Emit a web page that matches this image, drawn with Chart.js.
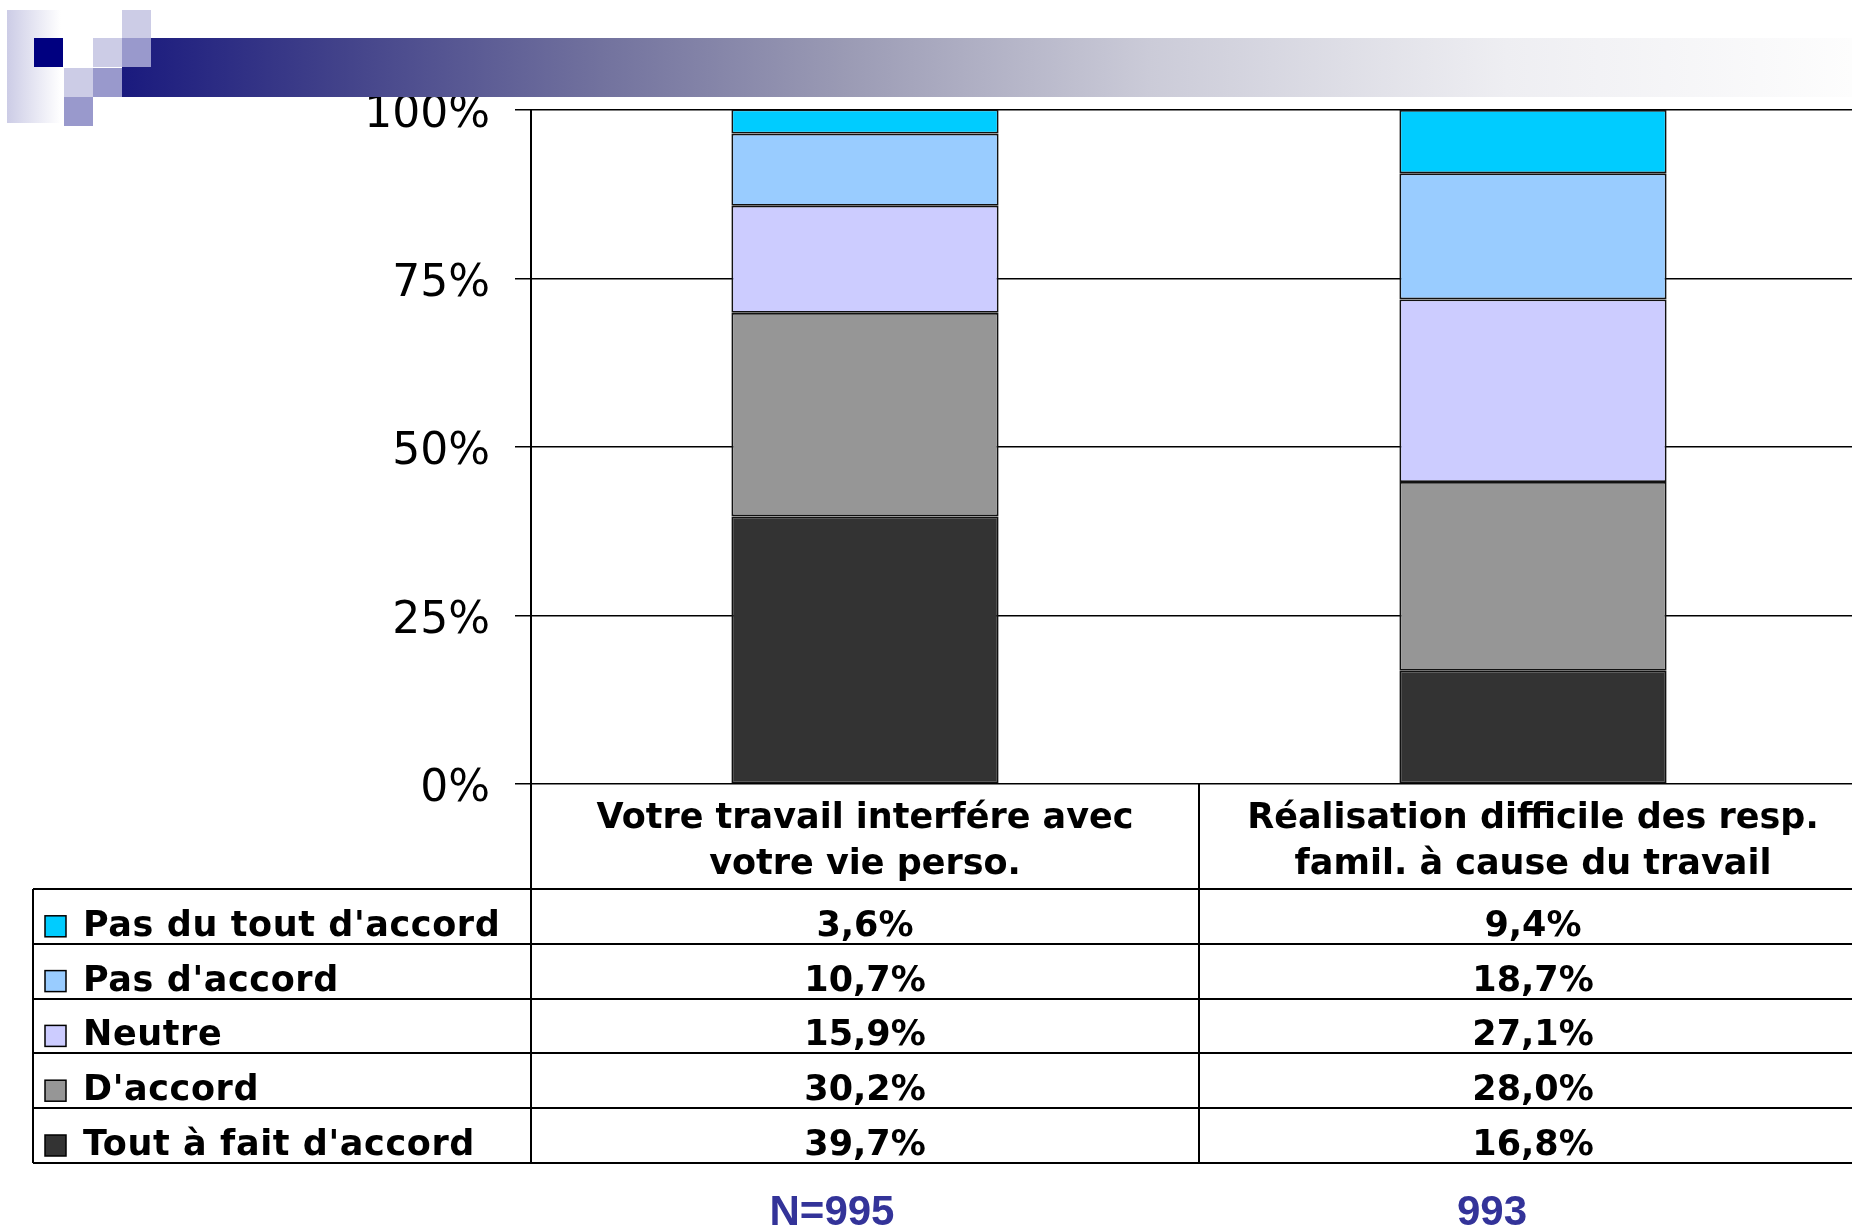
<!DOCTYPE html>
<html>
<head>
<meta charset="utf-8">
<script src="https://cdn.jsdelivr.net/npm/chart.js@4.4.0/dist/chart.umd.min.js"></script>
<style>
  html, body { margin: 0; padding: 0; background: #fff; overflow: hidden; }
  #wrap { width: 1880px; height: 1228px; }
</style>
</head>
<body>
<div id="wrap"><canvas id="barCanvas_travail" width="1880" height="1228"></canvas></div>
<script>
// categories (x axis) - one array per line of the label
const categories = [
    ['Votre travail interfére avec', 'votre vie perso.'],
    ['Réalisation difficile des resp.', 'famil. à cause du travail']
]
const nLabels = ['N=995', '993']

// series, bottom of the stack first
const seriesNames = ["Tout à fait d'accord", "D'accord", 'Neutre', "Pas d'accord", "Pas du tout d'accord"]
const toutAFait = [39.7, 16.8]
const dAccord = [30.2, 28.0]
const neutre = [15.9, 27.1]
const pasDAccord = [10.7, 18.7]
const pasDuTout = [3.6, 9.4]
const seriesColors = ['#333333', '#969696', '#CCCCFF', '#99CCFF', '#00CCFF']

const yTicks = [0, 25, 50, 75, 100]

const seriesValues = [toutAFait, dAccord, neutre, pasDAccord, pasDuTout]

// N labels are not centred on the columns in the original slide
const nShift = [-33, -41]

function fmt(v){
    return v.toFixed(1).replace('.', ',') + '%'
}

// top left banner (squares + gradient bar)
const bannerPlugin = {
    id: 'banner',
    afterDraw(chart){
        const ctx = chart.ctx
        ctx.save()
        let g = ctx.createLinearGradient(7, 0, 61, 0)
        g.addColorStop(0, '#CCCCE6')
        g.addColorStop(1, '#ffffff')
        ctx.fillStyle = g
        ctx.fillRect(7, 10, 54, 113)

        g = ctx.createLinearGradient(122, 0, 1852, 0)
        g.addColorStop(0, 'rgb(26,26,126)')
        g.addColorStop(0.126, 'rgb(66,66,138)')
        g.addColorStop(0.277, 'rgb(114,114,158)')
        g.addColorStop(0.416, 'rgb(154,154,180)')
        g.addColorStop(0.594, 'rgb(203,203,216)')
        g.addColorStop(0.8, 'rgb(238,238,242)')
        g.addColorStop(1, 'rgb(253,253,253)')
        ctx.fillStyle = g
        ctx.fillRect(122, 38, 1760, 59)

        const sq = [
            [34, 38, '#000080'],
            [93, 38, '#CCCCE6'],
            [122, 10, '#CCCCE6'],
            [122, 38, '#9999CC'],
            [64, 68, '#CCCCE6'],
            [93, 68, '#9999CC'],
            [64, 97, '#9999CC']
        ]
        sq.forEach(s => {
            ctx.fillStyle = s[2]
            ctx.fillRect(s[0], s[1], 29, 29)
        })
        ctx.restore()
    }
}

// data table under the chart
const tablePlugin = {
    id: 'dataTable',
    afterDraw(chart){
        const ctx = chart.ctx
        const xs = chart.scales.x
        const area = chart.chartArea
        const catW = (area.right - area.left) / categories.length
        const tableLeft = 33
        const top = 889
        const rowH = 54.8
        const nRows = seriesNames.length
        const bottom = top + rowH * nRows

        ctx.save()
        ctx.strokeStyle = '#000'
        ctx.lineWidth = 2
        ctx.beginPath()
        for(let r = 0; r <= nRows; r++){
            const y = Math.round(top + r * rowH)
            ctx.moveTo(tableLeft, y)
            ctx.lineTo(chart.width, y)
        }
        ctx.moveTo(tableLeft, top)
        ctx.lineTo(tableLeft, bottom)
        for(let i = 0; i <= categories.length; i++){
            const x = area.left + i * catW
            ctx.moveTo(x, area.bottom)
            ctx.lineTo(x, bottom)
        }
        ctx.stroke()

        ctx.font = 'bold 35px "DejaVu Sans"'
        ctx.textBaseline = 'middle'
        // top row of the table is the top series
        for(let r = 0; r < nRows; r++){
            const s = nRows - 1 - r
            const yc = top + (r + 1) * rowH - 17
            ctx.fillStyle = seriesColors[s]
            ctx.fillRect(45, yc - 11, 21, 21)
            ctx.lineWidth = 1.5
            ctx.strokeStyle = '#000'
            ctx.strokeRect(45, yc - 11, 21, 21)
            ctx.fillStyle = '#000'
            ctx.textAlign = 'left'
            ctx.letterSpacing = '0.6px'
            ctx.fillText(seriesNames[s], 83, yc)
            ctx.letterSpacing = '0px'
            ctx.textAlign = 'center'
            seriesValues[s].forEach((v, i) => {
                ctx.fillText(fmt(v), xs.getPixelForValue(i), yc)
            })
        }

        ctx.fillStyle = '#333399'
        ctx.font = 'bold 42px "Liberation Sans", Arial, sans-serif'
        ctx.textAlign = 'center'
        nLabels.forEach((t, i) => {
            ctx.fillText(t, xs.getPixelForValue(i) + nShift[i], 1213)
        })
        ctx.restore()
    }
}

const barCanvas_travail = document.getElementById('barCanvas_travail')
const barChart_travail = new Chart(barCanvas_travail, {
    type: 'bar',
    data: {
        labels: categories,
        datasets: seriesNames.map((name, i) => ({
            label: name,
            data: seriesValues[i],
            backgroundColor: seriesColors[i],
            borderColor: '#111',
            borderWidth: 1.8,
            borderSkipped: false,
            categoryPercentage: 1,
            barPercentage: 0.4
        }))
    },
    options: {
        responsive: false,
        animation: false,
        layout: { padding: { top: 110, right: 13, left: 0, bottom: 0 } },
        plugins: {
            legend: { display: false },
            tooltip: { enabled: false }
        },
        scales: {
            x: {
                stacked: true,
                grid: { display: false, drawTicks: false },
                border: { display: false },
                ticks: {
                    color: '#000',
                    font: { family: 'DejaVu Sans', size: 35, weight: 'bold', lineHeight: 1.314 },
                    padding: 12,
                    maxRotation: 0,
                    autoSkip: false
                },
                afterFit(scale){ scale.height = 444 }
            },
            y: {
                stacked: true,
                min: 0,
                max: 100,
                afterBuildTicks(scale){
                    scale.ticks = yTicks.map(v => ({ value: v }))
                },
                grid: { color: '#000', lineWidth: 1.5, tickLength: 16, tickColor: '#000' },
                border: { display: true, color: '#000', width: 2 },
                ticks: {
                    color: '#000',
                    // empty first line pushes the label a few px down onto the grid line
                    font: { family: 'DejaVu Sans', size: 44, lineHeight: '12px' },
                    padding: 25,
                    callback: v => ['', v + '%']
                },
                afterFit(scale){ scale.width = 531 }
            }
        }
    },
    plugins: [tablePlugin, bannerPlugin]
})
</script>
</body>
</html>
